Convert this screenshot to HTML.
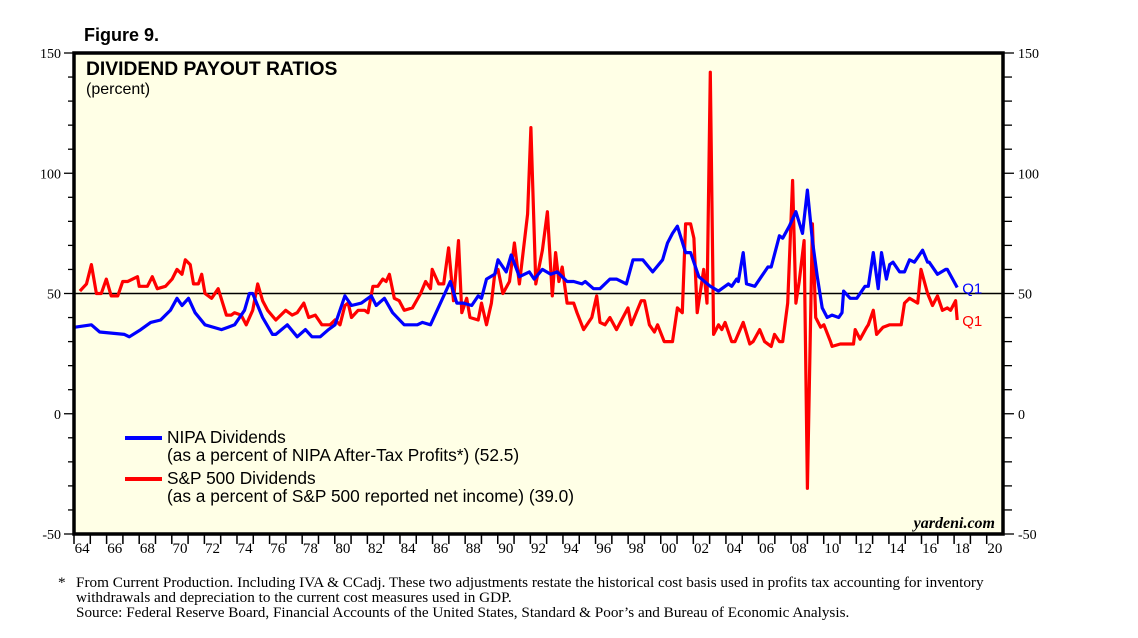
<!DOCTYPE html>
<html><head><meta charset="utf-8"><style>
body{margin:0;background:#fff;width:1138px;height:638px;overflow:hidden;font-family:"Liberation Sans",sans-serif}
svg{position:absolute;left:0;top:0}
</style></head><body>
<svg width="1138" height="638">
<text x="84" y="41" font-family="Liberation Sans" font-weight="bold" font-size="18">Figure 9.</text>
<rect x="74" y="53" width="929" height="481" fill="#ffffe6"/>
<g id="ticks"></g>
<line id="ref50" stroke="#000" stroke-width="1.5"/>
<g id="series"></g>
<rect x="74" y="53" width="929" height="481" fill="none" stroke="#000" stroke-width="3.5"/>
<text x="86" y="75" font-weight="bold" font-size="19.3">DIVIDEND PAYOUT RATIOS</text>
<text x="86" y="94" font-size="16">(percent)</text>
<line x1="125" y1="438" x2="162" y2="438" stroke="#0000ff" stroke-width="4"/>
<text x="167" y="443" font-size="17.3">NIPA Dividends</text>
<text x="167" y="461" font-size="17.3">(as a percent of NIPA After-Tax Profits*) (52.5)</text>
<line x1="125" y1="479" x2="162" y2="479" stroke="#ff0000" stroke-width="4"/>
<text x="167" y="484" font-size="17.3">S&amp;P 500 Dividends</text>
<text x="167" y="502" font-size="17.3">(as a percent of S&amp;P 500 reported net income) (39.0)</text>
<text x="995" y="528" text-anchor="end" font-family="Liberation Serif" font-style="italic" font-weight="bold" font-size="16">yardeni.com</text>
<g font-family="Liberation Serif" font-size="15.2">
<text x="58" y="587">*</text>
<text x="76" y="587">From Current Production. Including IVA &amp; CCadj. These two adjustments restate the historical cost basis used in profits tax accounting for inventory</text>
<text x="76" y="602">withdrawals and depreciation to the current cost measures used in GDP.</text>
<text x="76" y="617">Source: Federal Reserve Board, Financial Accounts of the United States, Standard &amp; Poor’s and Bureau of Economic Analysis.</text>
</g>
</svg>
<script>
const yTickLabels=[-50,0,50,100,150];
const xTickLabels=["64","66","68","70","72","74","76","78","80","82","84","86","88","90","92","94","96","98","00","02","04","06","08","10","12","14","16","18","20"];
const nipaYearsRaw=[1964.0,1965.0,1965.5,1967.0,1967.3,1968.0,1968.6,1969.2,1969.8,1970.2,1970.5,1970.9,1971.3,1971.9,1972.9,1973.3,1973.7,1974.3,1974.6,1974.8,1975.4,1976.0,1976.2,1976.9,1977.5,1978.0,1978.4,1978.9,1979.4,1979.8,1980.4,1980.8,1981.4,1982.0,1982.3,1982.8,1983.3,1984.0,1984.8,1985.1,1985.6,1986.8,1987.2,1987.6,1988.1,1988.5,1988.7,1989.0,1989.5,1989.7,1990.2,1990.5,1991.0,1991.6,1991.9,1992.4,1992.9,1993.3,1993.9,1994.3,1994.8,1995.0,1995.5,1995.9,1996.5,1996.9,1997.5,1997.9,1998.5,1999.1,1999.7,2000.0,2000.3,2000.6,2001.1,2001.4,2001.9,2002.6,2003.1,2003.7,2003.9,2004.2,2004.3,2004.6,2004.8,2005.3,2005.7,2006.1,2006.3,2006.8,2007.0,2007.4,2007.8,2008.2,2008.5,2008.8,2009.1,2009.4,2009.7,2010.0,2010.4,2010.6,2010.7,2011.1,2011.5,2012.0,2012.2,2012.5,2012.8,2013.0,2013.3,2013.5,2013.7,2014.1,2014.4,2014.7,2015.0,2015.5,2015.8,2015.9,2016.4,2016.9,2017.0,2017.6];
const nipaValues=[36,37,34,33,32,35,38,39,43,48,45,48,42,37,35,36,37,43,50,50,40,33,33,37,32,35,32,32,35,37,49,45,46,49,45,48,42,37,37,38,37,55,46,46,45,49,48,56,58,64,59,66,57,59,56,60,58,59,55,55,54,55,52,52,56,56,54,64,64,59,64,71,75,78,67,67,57,53,51,54,53,56,55,67,54,53,57,61,61,74,73,78,84,75,93,72,57,44,40,41,40,42,51,48,48,53,53,67,52,67,56,62,63,59,59,64,63,68,63,63,58,60,60,52.5];
const spYearsRaw=[1964.3,1964.7,1965.0,1965.3,1965.6,1965.9,1966.2,1966.6,1966.9,1967.2,1967.8,1967.9,1968.4,1968.7,1969.0,1969.5,1969.9,1970.2,1970.5,1970.7,1971.0,1971.2,1971.5,1971.7,1971.9,1972.3,1972.7,1973.2,1973.5,1973.7,1974.1,1974.4,1974.8,1975.1,1975.4,1975.7,1976.2,1976.8,1977.2,1977.5,1977.9,1978.2,1978.6,1979.0,1979.5,1979.8,1980.1,1980.4,1980.6,1980.8,1981.2,1981.6,1981.8,1982.1,1982.4,1982.7,1982.9,1983.1,1983.4,1983.7,1984.0,1984.5,1985.0,1985.3,1985.6,1985.7,1986.1,1986.4,1986.7,1987.0,1987.3,1987.5,1987.8,1988.0,1988.5,1988.7,1989.0,1989.3,1989.5,1989.7,1990.0,1990.4,1990.7,1991.0,1991.5,1991.7,1992.0,1992.4,1992.7,1993.0,1993.2,1993.4,1993.6,1993.9,1994.3,1994.5,1994.9,1995.4,1995.7,1995.9,1996.2,1996.5,1996.9,1997.6,1997.8,1998.4,1998.6,1998.9,1999.2,1999.4,1999.8,2000.3,2000.6,2000.9,2001.1,2001.4,2001.6,2001.8,2002.2,2002.4,2002.6,2002.8,2003.1,2003.3,2003.5,2003.9,2004.1,2004.6,2005.0,2005.2,2005.6,2005.9,2006.3,2006.5,2006.8,2007.0,2007.3,2007.6,2007.8,2008.0,2008.3,2008.5,2008.8,2009.0,2009.3,2009.5,2009.9,2010.0,2010.5,2010.9,2011.3,2011.4,2011.7,2012.1,2012.2,2012.5,2012.7,2013.1,2013.5,2013.9,2014.2,2014.4,2014.7,2015.2,2015.4,2015.8,2016.1,2016.4,2016.7,2017.0,2017.2,2017.5,2017.6];
const spValues=[51,54,62,50,50,56,49,49,55,55,57,53,53,57,52,53,56,60,58,64,62,54,54,58,50,48,52,41,41,42,41,37,43,54,47,43,39,43,41,42,46,40,41,37,37,39,37,45,46,40,43,43,42,53,53,56,55,58,48,47,43,44,50,55,52,60,54,54,69,47,72,42,48,40,39,46,37,46,58,60,50,55,71,54,83,119,54,68,84,49,67,55,61,46,46,42,35,40,49,38,37,40,35,44,37,47,47,37,34,37,30,30,44,42,79,79,73,42,60,46,142,33,37,35,38,30,30,38,29,30,35,30,28,33,30,30,46,97,46,55,72,-31,79,40,36,37,30,28,29,29,29,35,31,36,37,43,33,36,37,37,37,46,48,46,60,50,45,49,43,44,43,47,39];
// years above were read against a preliminary pixel calibration; align them to the axis calibration
const calib=o=>o+0.06+(o-1964)*0.0099;
const nipaYears=nipaYearsRaw.map(calib), spYears=spYearsRaw.map(calib);
const X0=74,X1=1003,Y0=534,Y1=53;
const xS=y=>X0+(y-1964)/(2021-1964)*(X1-X0);
const yS=v=>Y0-(v+50)/200*(Y0-Y1);
const NS='http://www.w3.org/2000/svg';
function mk(tag,attrs,parent){const e=document.createElementNS(NS,tag);for(const k in attrs)e.setAttribute(k,attrs[k]);parent.appendChild(e);return e;}
const tk=document.getElementById('ticks');
for(let v=-50;v<=150;v+=10){
  const y=yS(v),major=v%50===0;
  const a=mk('line',{x1:major?64:68,x2:X0,y1:y,y2:y,stroke:'#000','stroke-width':1.3},tk);
  
  
  const b=mk('line',{x1:X1,x2:major?1014:1012,y1:y,y2:y,stroke:'#000','stroke-width':1.3},tk);
  
  
}
yTickLabels.forEach(v=>{
  const l=mk('text',{x:61,y:yS(v)+5,'text-anchor':'end','font-family':'Liberation Serif','font-size':14},tk);
  l.textContent=v;
  
  
  const r=mk('text',{x:1018,y:yS(v)+5,'font-family':'Liberation Serif','font-size':14},tk);
  r.textContent=v;
  
  
});
for(let yr=1964;yr<=2020;yr++){
  const t=mk('line',{x1:xS(yr),x2:xS(yr),y1:Y0,y2:Y0+10,stroke:'#000','stroke-width':1.5},tk);
  
  
}
xTickLabels.forEach((s,i)=>{
  const t=mk('text',{x:xS(1964+2*i+0.5),y:Y0+19,'text-anchor':'middle','font-family':'Liberation Serif','font-size':15},tk);
  t.textContent=s;
  
  
});
const r50=document.getElementById('ref50');
r50.setAttribute('x1',X0);r50.setAttribute('x2',X1);r50.setAttribute('y1',yS(50));r50.setAttribute('y2',yS(50));
const sg=document.getElementById('series');
function line(xs,vs,color,name){
  const d=xs.map((x,i)=>(i?'L':'M')+xS(x).toFixed(1)+','+yS(vs[i]).toFixed(1)).join(' ');
  const p=mk('path',{d:d,fill:'none',stroke:color,'stroke-width':3.2,'stroke-linejoin':'round'},sg);
  
  
  const lx=xS(xs[xs.length-1])+5, ly=yS(vs[vs.length-1])+6;
  const q=mk('text',{x:lx,y:ly,fill:color,'font-size':15},sg);
  q.textContent='Q1';
  
  
}
line(spYears,spValues,'#ff0000','sp500-dividends-line');
line(nipaYears,nipaValues,'#0000ff','nipa-dividends-line');
</script>
</body></html>
